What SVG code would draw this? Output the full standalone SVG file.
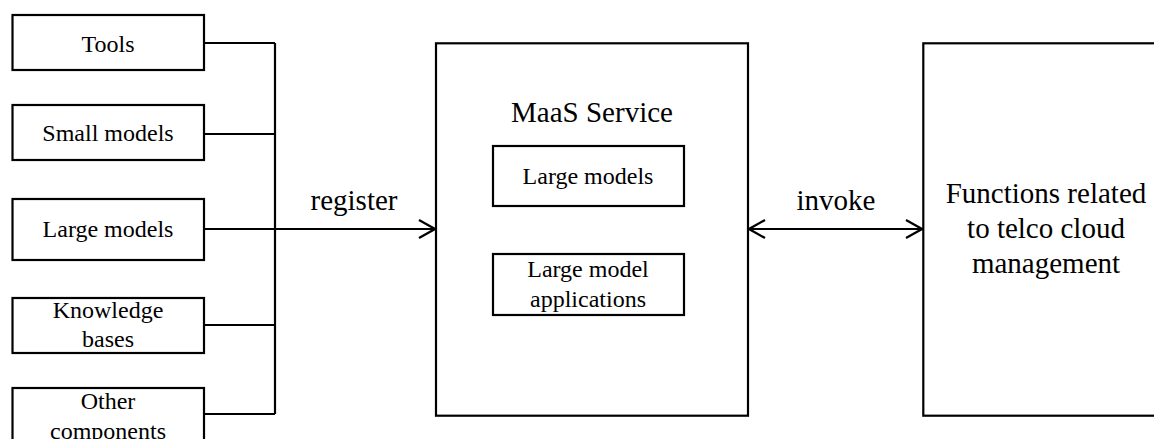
<svg xmlns="http://www.w3.org/2000/svg" width="1154" height="439" viewBox="0 0 1154 439">
  <style>
    .box { fill: #ffffff; stroke: #000000; stroke-width: 2.2; }
    .wire { fill: none; stroke: #000000; stroke-width: 2.2; }
    .lbl { font-family: 'Liberation Serif', Tinos, 'DejaVu Serif', serif; font-size: 24px; fill: #000000; text-anchor: middle; }
    .big { font-size: 29px; }
  </style>
  <defs>
    <marker id="chev" viewBox="0 0 20 20" refX="18" refY="10" markerWidth="20" markerHeight="20" markerUnits="userSpaceOnUse" orient="auto-start-reverse">
      <path d="M2 1 L18 10 L2 19" fill="none" stroke="#000000" stroke-width="2.2"/>
    </marker>
  </defs>
  <rect width="1154" height="439" fill="#ffffff"/>

  <!-- component boxes on the left -->
  <g id="tools">
    <rect class="box" x="12.5" y="15" width="191.5" height="55"/>
    <text class="lbl" x="108" y="52" font-family="Liberation Serif, serif">Tools</text>
  </g>
  <g id="small-models">
    <rect class="box" x="12.5" y="105" width="191.5" height="55"/>
    <text class="lbl" x="108" y="141">Small models</text>
  </g>
  <g id="large-models">
    <rect class="box" x="12.5" y="199" width="191.5" height="61"/>
    <text class="lbl" x="108" y="237">Large models</text>
  </g>
  <g id="knowledge-bases">
    <rect class="box" x="12.5" y="298" width="191.5" height="55"/>
    <text class="lbl" x="108" y="318">Knowledge</text>
    <text class="lbl" x="108" y="347">bases</text>
  </g>
  <g id="other-components">
    <rect class="box" x="12.5" y="388" width="191.5" height="70"/>
    <text class="lbl" x="108" y="409">Other</text>
    <text class="lbl" x="108" y="439">components</text>
  </g>

  <!-- MaaS service -->
  <g id="maas">
    <rect class="box" x="436" y="43.3" width="312" height="372.4"/>
    <text class="lbl big" x="592" y="122">MaaS Service</text>
    <rect class="box" x="493" y="146" width="191" height="60"/>
    <text class="lbl" x="588" y="184">Large models</text>
    <rect class="box" x="493" y="254" width="191" height="61"/>
    <text class="lbl" x="588" y="277">Large model</text>
    <text class="lbl" x="588" y="307">applications</text>
  </g>

  <!-- telco cloud management functions -->
  <g id="telco-functions">
    <rect class="box" x="923.3" y="43.3" width="240" height="372.4"/>
    <text class="lbl big" x="1046" y="203">Functions related</text>
    <text class="lbl big" x="1046" y="238">to telco cloud</text>
    <text class="lbl big" x="1046" y="273">management</text>
  </g>

  <!-- connectors -->
  <g id="connectors">
    <path class="wire" d="M204 43 H275 M204 134 H275 M204 229 H275 M204 325 H275 M204 414 H275 M275 43 V414"/>
    <path class="wire" d="M275 229 H435" marker-end="url(#chev)"/>
    <text class="lbl big" x="354" y="210">register</text>
    <path class="wire" d="M749 229 H922" marker-start="url(#chev)" marker-end="url(#chev)"/>
    <text class="lbl big" x="836" y="210">invoke</text>
  </g>
</svg>
